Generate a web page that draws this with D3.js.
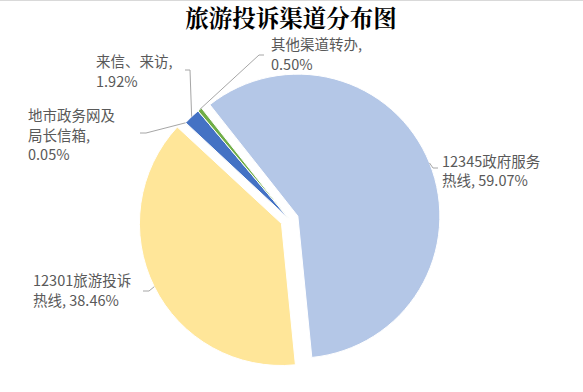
<!DOCTYPE html>
<html><head><meta charset="utf-8">
<script src="https://cdn.jsdelivr.net/npm/d3@7"></script>
<style>
html,body{margin:0;padding:0;background:#fff;}
svg{display:block;}
</style></head>
<body>
<svg id="chart" width="583" height="392"></svg>
<script>
// ---- data ----
const categories = ["12345政府服务热线", "12301旅游投诉热线", "地市政务网及局长信箱", "来信、来访", "其他渠道转办"];
const values = [59.07, 38.46, 0.05, 1.92, 0.50];
const labelLines = [
  ["12345政府服务", "热线, 59.07%"],
  ["12301旅游投诉", "热线, 38.46%"],
  ["地市政务网及", "局长信箱,", "0.05%"],
  ["来信、来访,", "1.92%"],
  ["其他渠道转办,", "0.50%"]
];
const title = "旅游投诉渠道分布图";

// ---- layout / style ----
const colors = ["#B4C7E7", "#FFE699", "#A5A5A5", "#4472C4", "#70AD47"];
const explode = [9, 9, 0, 0, 0];
const labelPos = [ // x, first baseline
  [442, 167], [33, 286], [28, 121], [96, 67], [271, 50]
];
const leaderBend = [ // bend point, end point
  [[433, 168], [438, 168]],
  [[149, 291], [143, 291]],
  [[146, 133], [140, 133]],
  [[190, 70], [185, 70]],
  [[259, 55], [264, 55]]
];
const lineGap = [19, 20, 19.5, 20, 20];
const cx = 289.5, cy = 219.5, R = 142;
const startDeg = -38.3;

const svg = d3.select("#chart");
svg.append("line").attr("x1", 0).attr("x2", 583).attr("y1", 0.5).attr("y2", 0.5)
  .attr("stroke", "#d9d9d9").attr("stroke-width", 1);

svg.append("text").attr("x", 291).attr("y", 27).attr("text-anchor", "middle")
  .attr("font-family", "'Noto Serif CJK SC','Noto Sans CJK SC',serif")
  .attr("font-weight", "bold").attr("font-size", 23.5).attr("fill", "#000")
  .text(title);

const start = startDeg * Math.PI / 180;
const pie = d3.pie().sort(null).startAngle(start).endAngle(start + 2 * Math.PI);
const arcs = pie(values);
const arc = d3.arc().innerRadius(0).outerRadius(R);

const g = svg.append("g").attr("transform", `translate(${cx},${cy})`);
g.selectAll("path").data(arcs).join("path")
  .attr("d", arc)
  .attr("transform", (d, i) => {
    const m = (d.startAngle + d.endAngle) / 2;
    return `translate(${explode[i] * Math.sin(m)},${-explode[i] * Math.cos(m)})`;
  })
  .attr("fill", (d, i) => colors[i])
  .attr("stroke", "#fff").attr("stroke-width", 1);

// leaders
arcs.forEach((d, i) => {
  const m = (d.startAngle + d.endAngle) / 2;
  const ox = cx + explode[i] * Math.sin(m), oy = cy - explode[i] * Math.cos(m);
  const p0 = [ox + R * Math.sin(m), oy - R * Math.cos(m)];
  const pts = [p0, leaderBend[i][0], leaderBend[i][1]];
  svg.append("path").attr("d", d3.line()(pts)).attr("fill", "none")
    .attr("stroke", "#a6a6a6").attr("stroke-width", 1);
  const t = svg.append("text").attr("font-family", "'Microsoft YaHei','Noto Sans CJK SC',sans-serif")
    .attr("font-size", 14.5).attr("fill", "#595959");
  labelLines[i].forEach((ln, k) => {
    t.append("tspan").attr("x", labelPos[i][0]).attr("y", labelPos[i][1] + k * lineGap[i]).text(ln);
  });
});
</script>
</body></html>
